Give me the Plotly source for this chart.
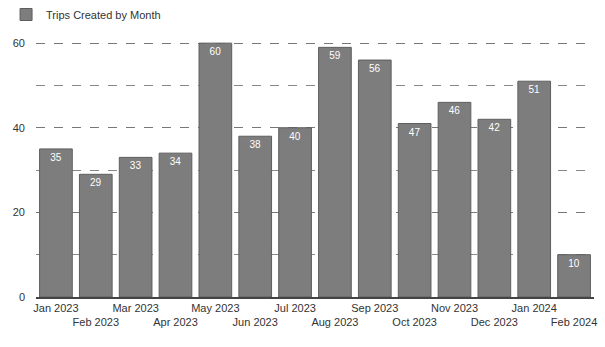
import plotly.graph_objects as go

months = ["Jan 2023", "Feb 2023", "Mar 2023", "Apr 2023", "May 2023", "Jun 2023", "Jul 2023",
          "Aug 2023", "Sep 2023", "Oct 2023", "Nov 2023", "Dec 2023", "Jan 2024", "Feb 2024"]
trips = [35, 29, 33, 34, 60, 38, 40, 59, 56, 41, 46, 42, 51, 10]
trip_labels = ["35", "29", "33", "34", "60", "38", "40", "59", "56", "47", "46", "42", "51", "10"]
y_ticks = [0, 20, 40, 60]

tick_text = [m if i % 2 == 0 else "<br>" + m for i, m in enumerate(months)]

fig = go.Figure()
fig.add_trace(go.Bar(
    x=months, y=trips, name="Trips Created by Month",
    marker=dict(color="#7d7d7d", line=dict(color="#5e5e5e", width=1)),
    text=trip_labels, textposition="inside", insidetextanchor="end",
    textfont=dict(color="white", size=10), constraintext="none",
    textangle=0,
))

fig.update_layout(
    width=605, height=347,
    margin=dict(l=36, r=8, t=38, b=50),
    paper_bgcolor="white", plot_bgcolor="white",
    font=dict(family="Liberation Sans, Arial, sans-serif", color="#333", size=11),
    bargap=0.18,
    showlegend=True,
    legend=dict(orientation="h", xref="container", x=0.01, xanchor="left",
                yref="container", y=1.0, yanchor="top",
                font=dict(size=11, color="#333"), itemwidth=30,
                bgcolor="rgba(0,0,0,0)"),
    xaxis=dict(tickmode="array", tickvals=months, ticktext=tick_text, tickangle=0,
               showgrid=False, showline=True, linecolor="#444", linewidth=1.5,
               tickfont=dict(size=11, color="#333")),
    yaxis=dict(range=[0, 61], tickvals=y_ticks, showgrid=True, gridcolor="#777",
               griddash="dash", gridwidth=1, zeroline=False,
               minor=dict(dtick=10, showgrid=True, gridcolor="#888", griddash="dash"),
               tickfont=dict(size=11, color="#333"), ticklabelstandoff=10),
)

fig.write_html("out.html")
